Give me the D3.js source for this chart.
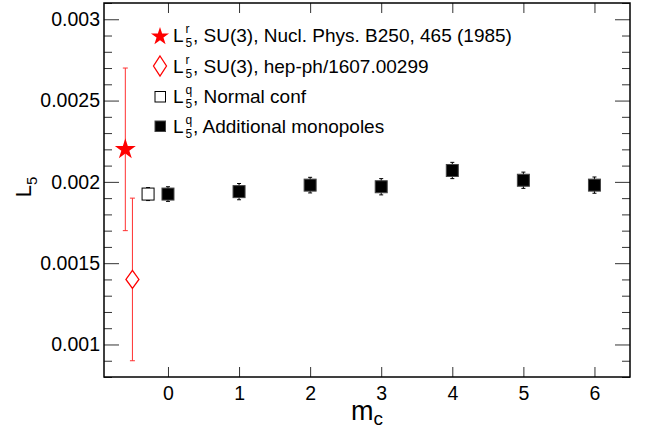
<!DOCTYPE html>
<html>
<head>
<meta charset="utf-8">
<script src="https://cdn.jsdelivr.net/npm/d3@7"></script>
<style>
  html, body { margin: 0; padding: 0; background: #fff; }
  svg { display: block; font-family: "Liberation Sans", Arial, sans-serif; }
</style>
</head>
<body>
<svg id="chart" width="655" height="431"></svg>
<script>
// ---- data ----
const xTickValues = [0, 1, 2, 3, 4, 5, 6];
const yTickValues = [0.001, 0.0015, 0.002, 0.0025, 0.003];
const yTickLabels = ["0.001", "0.0015", "0.002", "0.0025", "0.003"];

const mcValues = [0, 1, 2, 3, 4, 5, 6];
const monoValues = [0.001925, 0.00194, 0.00198, 0.00197, 0.00207, 0.00201, 0.00198];
const monoErrors = [0.000045, 0.00005, 0.000048, 0.00005, 0.00005, 0.00005, 0.00005];

const normalX = [-0.28];
const normalValues = [0.001925];
const normalErrors = [0.00004];

const nuclX = [-0.6];
const nuclValues = [0.0022];
const nuclErrors = [0.0005];

const hepX = [-0.5];
const hepValues = [0.0014];
const hepErrors = [0.0005];

const legendSup = ["r", "r", "q", "q"];
const legendRest = [", SU(3), Nucl. Phys. B250, 465 (1985)", ", SU(3), hep-ph/1607.00299", ", Normal conf", ", Additional monopoles"];

// ---- layout ----
const svg = d3.select("#chart");
const L = 104, R = 630, T = 3, B = 377;
const x = d3.scaleLinear().domain([-0.9, 6.5]).range([L, R]);
const y = d3.scaleLinear().domain([0.0008, 0.0031]).range([B, T]);
const FS = 19.5;
const LFS = 19;
const red = "#ff0000";

const yMinor = d3.range(8, 32).map(d => d / 10000).filter(v => !yTickValues.some(t => Math.abs(t - v) < 1e-9));

function styleAxis(g) {
  g.select(".domain").remove();
  g.selectAll("line").attr("stroke", "#333").attr("stroke-width", 1);
  g.selectAll("text").attr("font-size", FS).attr("fill", "#000").attr("font-family", '"Liberation Sans", Arial, sans-serif');
}

svg.append("g").attr("transform", `translate(${L},0)`)
  .call(d3.axisLeft(y).tickValues(yTickValues).tickFormat((d, i) => yTickLabels[i]).tickSize(-15).tickPadding(4))
  .call(styleAxis);
svg.append("g").attr("transform", `translate(${L},0)`)
  .call(d3.axisLeft(y).tickValues(yMinor).tickFormat("").tickSize(-8))
  .call(styleAxis);
svg.append("g").attr("transform", `translate(${R},0)`)
  .call(d3.axisRight(y).tickValues(yTickValues).tickFormat("").tickSize(-15))
  .call(styleAxis);
svg.append("g").attr("transform", `translate(${R},0)`)
  .call(d3.axisRight(y).tickValues(yMinor).tickFormat("").tickSize(-8))
  .call(styleAxis);
svg.append("g").attr("transform", `translate(0,${B})`)
  .call(d3.axisBottom(x).tickValues(xTickValues).tickFormat(d3.format("d")).tickSize(-10).tickPadding(9))
  .call(styleAxis);
svg.append("g").attr("transform", `translate(0,${T})`)
  .call(d3.axisTop(x).tickValues(xTickValues).tickFormat("").tickSize(-10))
  .call(styleAxis);

svg.append("rect").attr("x", L).attr("y", T).attr("width", R - L).attr("height", B - T)
  .attr("fill", "none").attr("stroke", "#000").attr("stroke-width", 1.5);

const yt = svg.append("text").attr("transform", "translate(31,187) rotate(-90)")
  .attr("text-anchor", "middle").attr("font-size", 22);
yt.append("tspan").text("L");
yt.append("tspan").attr("dy", 6).attr("font-size", 15).text("5");

const xt = svg.append("text").attr("x", (L + R) / 2).attr("y", 420)
  .attr("text-anchor", "middle").attr("font-size", 27);
xt.append("tspan").text("m");
xt.append("tspan").attr("dy", 5).attr("font-size", 19).text("c");

function errBars(g, xs, vs, es, color, gapHalf, cap) {
  xs.forEach((xv, i) => {
    const cx = x(xv), cy = y(vs[i]);
    const yt = y(vs[i] + es[i]), yb = y(vs[i] - es[i]);
    if (gapHalf > 0) {
      if (cy - gapHalf > yt) g.append("line").attr("x1", cx).attr("x2", cx).attr("y1", yt).attr("y2", cy - gapHalf).attr("stroke", color);
      if (cy + gapHalf < yb) g.append("line").attr("x1", cx).attr("x2", cx).attr("y1", cy + gapHalf).attr("y2", yb).attr("stroke", color);
    } else {
      g.append("line").attr("x1", cx).attr("x2", cx).attr("y1", yt).attr("y2", yb).attr("stroke", color);
    }
    [yt, yb].forEach(yy => g.append("line").attr("x1", cx - cap).attr("x2", cx + cap).attr("y1", yy).attr("y2", yy).attr("stroke", color));
  });
}

function starPath(cx, cy, r) {
  const pts = [];
  const ri = r * 0.382;
  for (let k = 0; k < 10; k++) {
    const a = -Math.PI / 2 + k * Math.PI / 5;
    const rr = k % 2 === 0 ? r : ri;
    pts.push([cx + rr * Math.cos(a), cy + rr * Math.sin(a)]);
  }
  return "M" + pts.map(p => p.join(",")).join("L") + "Z";
}
function diamondPath(cx, cy, w, h) {
  return `M${cx},${cy - h / 2}L${cx + w / 2},${cy}L${cx},${cy + h / 2}L${cx - w / 2},${cy}Z`;
}

const plot = svg.append("g");
errBars(plot, nuclX, nuclValues, nuclErrors, "#ff3030", 0, 2.5);
plot.selectAll(".star").data(nuclX).enter().append("path")
  .attr("d", (d, i) => starPath(x(d), y(nuclValues[i]), 11)).attr("fill", red);
errBars(plot, hepX, hepValues, hepErrors, "#ff3030", 9, 2.5);
plot.selectAll(".dia").data(hepX).enter().append("path")
  .attr("d", (d, i) => diamondPath(x(d), y(hepValues[i]), 13, 18))
  .attr("fill", "#fff").attr("stroke", red).attr("stroke-width", 1.3);
errBars(plot, normalX, normalValues, normalErrors, "#000", 6.5, 2);
plot.selectAll(".osq").data(normalX).enter().append("rect")
  .attr("x", d => x(d) - 6).attr("y", (d, i) => y(normalValues[i]) - 6)
  .attr("width", 12).attr("height", 12).attr("fill", "#fff").attr("stroke", "#000").attr("stroke-width", 1);
errBars(plot, mcValues, monoValues, monoErrors, "#000", 0, 2);
plot.selectAll(".fsq").data(mcValues).enter().append("rect")
  .attr("x", d => x(d) - 6).attr("y", (d, i) => y(monoValues[i]) - 6)
  .attr("width", 12).attr("height", 12).attr("fill", "#000").attr("stroke", "#444").attr("stroke-width", 1);

const legBase = [42, 72.5, 103, 132.5];
const lg = svg.append("g");
legBase.forEach((b, i) => {
  const row = lg.append("g");
  const mcy = b - 6.5;
  if (i === 0) row.append("path").attr("d", starPath(160, mcy + 1, 9.5)).attr("fill", red);
  if (i === 1) row.append("path").attr("d", diamondPath(160, mcy, 13, 20)).attr("fill", "#fff").attr("stroke", red).attr("stroke-width", 1.3);
  if (i === 2) row.append("rect").attr("x", 155).attr("y", mcy - 5).attr("width", 10.5).attr("height", 10.5).attr("fill", "#fff").attr("stroke", "#000");
  if (i === 3) row.append("rect").attr("x", 155).attr("y", mcy - 5).attr("width", 10.5).attr("height", 10.5).attr("fill", "#000").attr("stroke", "#444");
  row.append("text").attr("x", 173).attr("y", b).attr("font-size", LFS).text("L");
  row.append("text").attr("x", 185.5).attr("y", b - 9).attr("font-size", 12).text(legendSup[i]);
  row.append("text").attr("x", 185.5).attr("y", b + 5).attr("font-size", 12).text("5");
  row.append("text").attr("x", 193).attr("y", b).attr("font-size", LFS).text(legendRest[i]);
});
</script>
</body>
</html>
